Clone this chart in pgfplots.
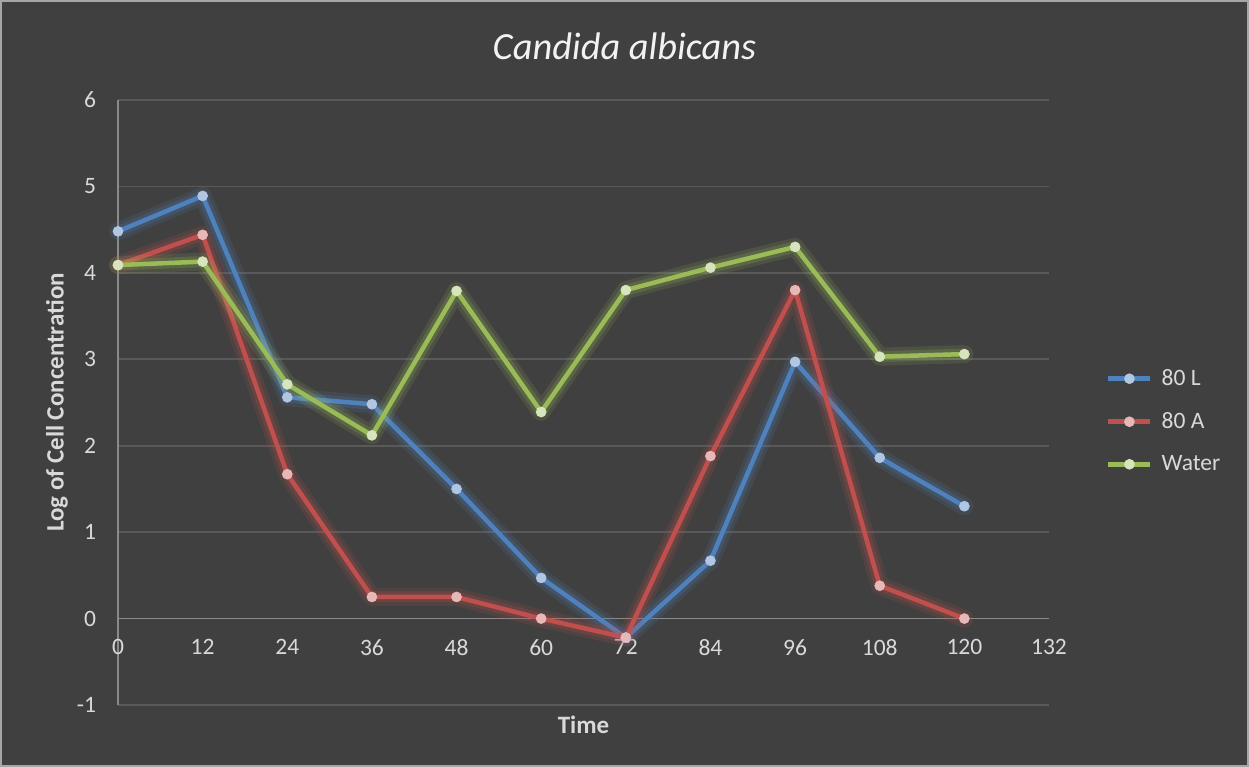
\documentclass[border=0pt]{standalone}
\usepackage{pgfplots}
\pgfplotsset{compat=1.18}
\usepackage{pgfplotstable}
\usepackage{fontspec}
\setmainfont{Carlito}
\definecolor{bg}{HTML}{404040}
\definecolor{gridc}{HTML}{595959}
\definecolor{axl}{HTML}{8A8A8A}
\definecolor{txt}{HTML}{D9D9D9}
\definecolor{sblue}{HTML}{4F81BD}
\definecolor{sred}{HTML}{C0504D}
\definecolor{sgreen}{HTML}{9BBB59}

\pgfplotstableread{
t y
0 4.48
12 4.89
24 2.56
36 2.48
48 1.50
60 0.47
72 -0.22
84 0.67
96 2.97
108 1.86
120 1.30
}\tblL
\pgfplotstableread{
t y
0 4.09
12 4.44
24 1.67
36 0.25
48 0.25
60 0.00
72 -0.22
84 1.88
96 3.80
108 0.38
120 0.00
}\tblA
\pgfplotstableread{
t y
0 4.09
12 4.13
24 2.71
36 2.12
48 3.79
60 2.39
72 3.80
84 4.06
96 4.30
108 3.03
120 3.06
}\tblW

\begin{document}
\begin{tikzpicture}
\fill[bg] (0,0) rectangle (624.5bp,383.5bp);
\useasboundingbox (0,0) rectangle (624.5bp,383.5bp);
\draw[color=gray!70!white, line width=1bp] (0.5bp,0.5bp) rectangle (624bp,383bp);
\node[font=\itshape\fontsize{19.2bp}{23bp}\selectfont, text=white!95!black] at (312.25bp,360.5bp) {Candida albicans};
\begin{axis}[
  at={(59bp,31bp)}, anchor=south west,
  width=465.5bp, height=302.5bp, scale only axis,
  xmin=0, xmax=132, ymin=-1, ymax=6,
  axis x line=middle, axis y line=left,
  axis line style={-},
  x axis line style={draw=axl, line width=0.8bp},
  y axis line style={draw=axl, line width=0.8bp},
  xtick={0,12,...,132}, ytick={-1,0,...,6},
  xticklabels={0,12,24,36,48,60,72,84,96,108,120,132},
  yticklabels={-1,0,1,2,3,4,5,6},
  major tick length=0pt,
  hide obscured x ticks=false, hide obscured y ticks=false,
  ymajorgrids, grid style={draw=gridc, line width=0.8bp},
  tick label style={font=\fontsize{11.75bp}{14bp}\selectfont, text=txt},
  xticklabel style={yshift=-7bp},
  yticklabel style={xshift=-7.5bp},
  xlabel={Time}, ylabel={Log of Cell Concentration},
  every axis x label/.style={at={(axis description cs:0.5,0)}, anchor=center, yshift=-10bp, font=\bfseries\fontsize{12.5bp}{15bp}\selectfont, text=txt},
  every axis y label/.style={at={(axis description cs:0,0.5)}, anchor=center, rotate=90, yshift=30.5bp, font=\bfseries\fontsize{12.5bp}{15bp}\selectfont, text=txt},
  clip=false,
  legend style={at={(axis description cs:1.061,0.469)}, anchor=west, draw=none, fill=none, inner sep=0pt, row sep=8bp, font=\fontsize{11.75bp}{14bp}\selectfont, text=txt, /tikz/every odd column/.style={column sep=2.5bp}},
  legend cell align=left,
  legend image code/.code={\draw[mark repeat=2,mark phase=2,#1] plot coordinates {(0bp,0bp) (10.5bp,0bp) (21bp,0bp)};},
  glowA/.style={line width=9bp, opacity=0.14, no marks, forget plot, line join=round, line cap=round},
  glowB/.style={line width=5.5bp, opacity=0.2, no marks, forget plot, line join=round, line cap=round},
  main/.style={line width=2.25bp, line join=round, mark=*, mark size=2.5bp},
]
\addplot[sblue, glowA] table {\tblL};
\addplot[sblue, glowB] table {\tblL};
\addplot[sblue, main, mark options={solid, fill=sblue!45!white, draw=sblue!45!white, line width=0.3bp}] table {\tblL};
\addlegendentry{80 L}
\addplot[sred, glowA] table {\tblA};
\addplot[sred, glowB] table {\tblA};
\addplot[sred, main, mark options={solid, fill=sred!40!white, draw=sred!40!white, line width=0.3bp}] table {\tblA};
\addlegendentry{80 A}
\addplot[sgreen, glowA] table {\tblW};
\addplot[sgreen, glowB] table {\tblW};
\addplot[sgreen, main, mark options={solid, fill=sgreen!40!white, draw=sgreen!40!white, line width=0.3bp}] table {\tblW};
\addlegendentry{Water}
\end{axis}
\end{tikzpicture}
\end{document}
